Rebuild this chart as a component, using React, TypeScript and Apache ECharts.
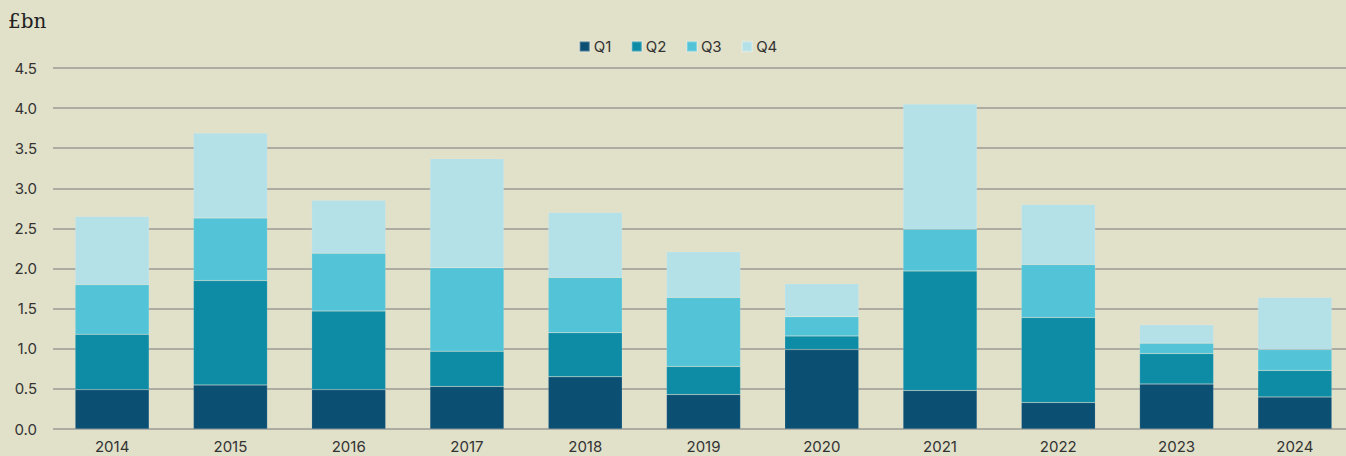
import React, { useEffect, useRef } from "react";
import * as echarts from "echarts";

const years = ["2014", "2015", "2016", "2017", "2018", "2019", "2020", "2021", "2022", "2023", "2024"];
const q1 = [0.49, 0.55, 0.49, 0.53, 0.65, 0.43, 0.99, 0.48, 0.33, 0.56, 0.4];
const q2 = [0.69, 1.3, 0.98, 0.44, 0.55, 0.35, 0.17, 1.49, 1.06, 0.38, 0.33];
const q3 = [0.62, 0.78, 0.72, 1.04, 0.69, 0.86, 0.24, 0.52, 0.66, 0.13, 0.26];
const q4 = [0.85, 1.06, 0.66, 1.36, 0.81, 0.57, 0.41, 1.56, 0.75, 0.23, 0.65];
const seriesNames = ["Q1", "Q2", "Q3", "Q4"];
const colors = ["#0b4f73", "#0e8ca6", "#53c4d7", "#b4e0e8"];

export default function App() {
  const ref = useRef<HTMLDivElement>(null);
  useEffect(() => {
    document.body.style.margin = "0";
    document.body.style.overflow = "hidden";
    document.body.style.background = "#e1e0c9";
    const chart = echarts.init(ref.current!, null, { renderer: "svg" });
    const values = [q1, q2, q3, q4];
    chart.setOption({
      animation: false,
      backgroundColor: "#e1e0c9",
      textStyle: { fontFamily: "Inter, 'Liberation Sans', sans-serif" },
      graphic: [
        {
          type: "text",
          left: 8,
          top: 11,
          style: { text: "£bn", font: "20px 'DejaVu Serif', 'Liberation Serif', serif", fill: "#222" },
        },
      ],
      legend: {
        data: seriesNames,
        top: 34,
        left: "center",
        itemWidth: 10,
        itemHeight: 10,
        itemGap: 19.5,
        icon: "rect",
        textStyle: { fontSize: 15, color: "#333", padding: [0, 0, 0, -1] },
      },
      grid: { left: 53, top: 68, right: 2, height: 361, containLabel: false },
      xAxis: {
        type: "category",
        data: years,
        axisLine: { show: false },
        axisTick: { show: false },
        axisLabel: { fontSize: 15, color: "#333", margin: 10, lineHeight: 15 },
      },
      yAxis: {
        type: "value",
        min: 0,
        max: 4.5,
        interval: 0.5,
        axisLine: { show: false },
        axisTick: { show: false },
        axisLabel: { fontSize: 15, color: "#333", margin: 16, formatter: (v: number) => v.toFixed(1) },
        splitLine: { lineStyle: { color: "#9b9b95", width: 1.5 } },
      },
      series: seriesNames.map((name, i) => ({
        name,
        type: "bar",
        stack: "total",
        data: values[i],
        barWidth: 74,
        itemStyle: { color: colors[i], borderColor: "rgba(255,255,255,0.25)", borderWidth: 0.5 },
      })),
    });
    return () => chart.dispose();
  }, []);
  return (
    <div style={{ position: "absolute", left: 0, top: 0, width: 1346, height: 456, overflow: "hidden" }}>
      <div ref={ref} style={{ position: "absolute", left: 0, top: 0, width: 1356, height: 456 }} />
    </div>
  );
}
